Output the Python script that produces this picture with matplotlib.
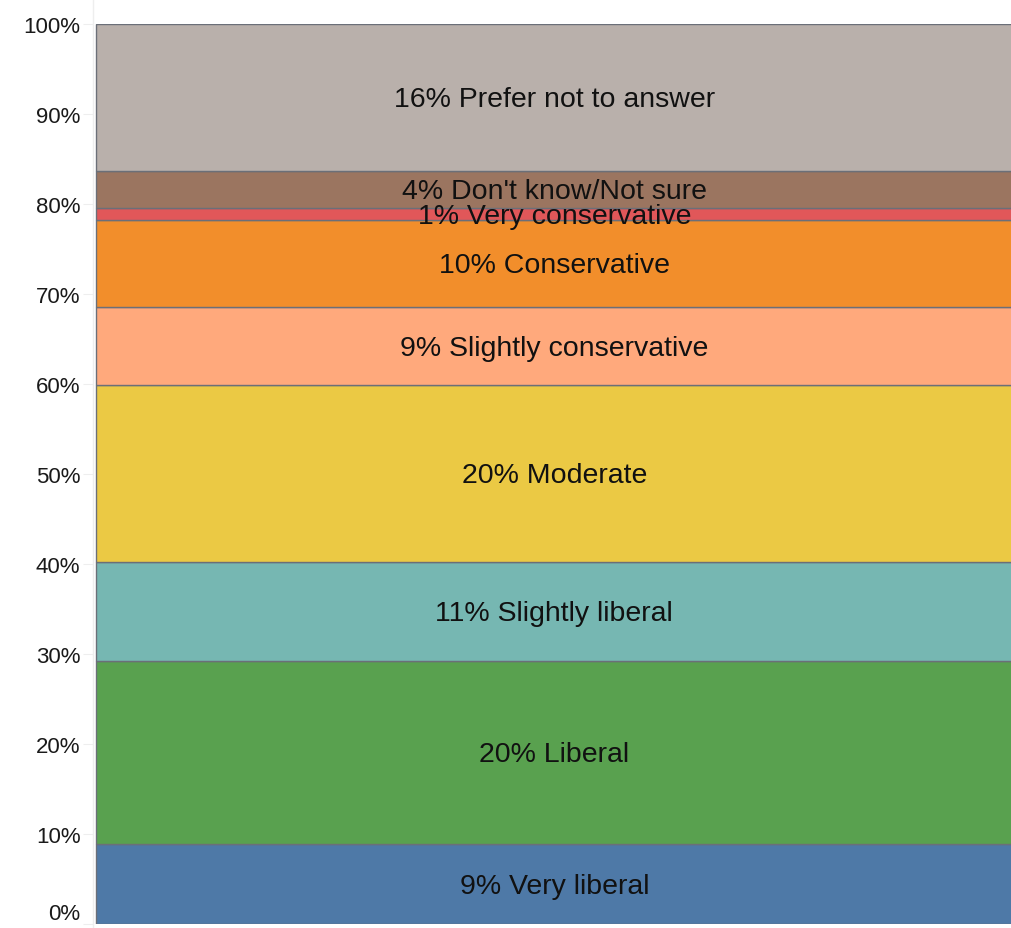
import matplotlib.pyplot as plt
from matplotlib.lines import Line2D
from matplotlib.ticker import FuncFormatter

# categories from bottom to top, with shares
categories = ['Very liberal', 'Liberal', 'Slightly liberal', 'Moderate',
              'Slightly conservative', 'Conservative', 'Very conservative',
              "Don't know/Not sure", 'Prefer not to answer']
shares = [8.9, 20.3, 11.0, 19.7, 8.7, 9.6, 1.4, 4.1, 16.3]
labels = ['9%', '20%', '11%', '20%', '9%', '10%', '1%', '4%', '16%']
colors = ['#4e79a7', '#59a14f', '#76b7b2', '#ebc944', '#ffa97c',
          '#f28e2b', '#e15759', '#9b7560', '#b9b0ab']

plt.rcParams['font.family'] = ['Liberation Sans', 'DejaVu Sans']

fig = plt.figure(figsize=(10.12, 9.29), dpi=100)
ax = fig.add_axes([93 / 1012, 4 / 929, 1 - 93 / 1012, 900 / 929])

bottom = 0
for cat, val, lab, col in zip(categories, shares, labels, colors):
    ax.bar(0.003, val, width=1.2, bottom=bottom, align='edge', color=col,
           edgecolor='#6b6f78', linewidth=1.0)
    ax.text(0.502, bottom + val / 2 - 0.2, lab + ' ' + cat, ha='center',
            va='center', fontsize=20.5, color='#111111')
    bottom += val

ax.set_xlim(0, 1)
ax.set_ylim(0, 100)
ax.set_yticks(range(0, 101, 10))
ax.yaxis.set_major_formatter(FuncFormatter(lambda v, p: f'{int(v)}%'))
ax.tick_params(axis='y', labelsize=16, length=7, color='#eeeeee', pad=2,
               labelcolor='#1a1a1a')
ax.set_xticks([])
for s in ['top', 'right', 'bottom', 'left']:
    ax.spines[s].set_visible(False)

# the 0% label sits a little above its tick so it stays inside the picture
ax.get_yticklabels()[0].set_va('bottom')

# faint axis line running the full height
fig.add_artist(Line2D([93 / 1012, 93 / 1012], [0, 1], color='#eeeeee',
                      linewidth=1.0))

plt.savefig('out.png', dpi=100)
